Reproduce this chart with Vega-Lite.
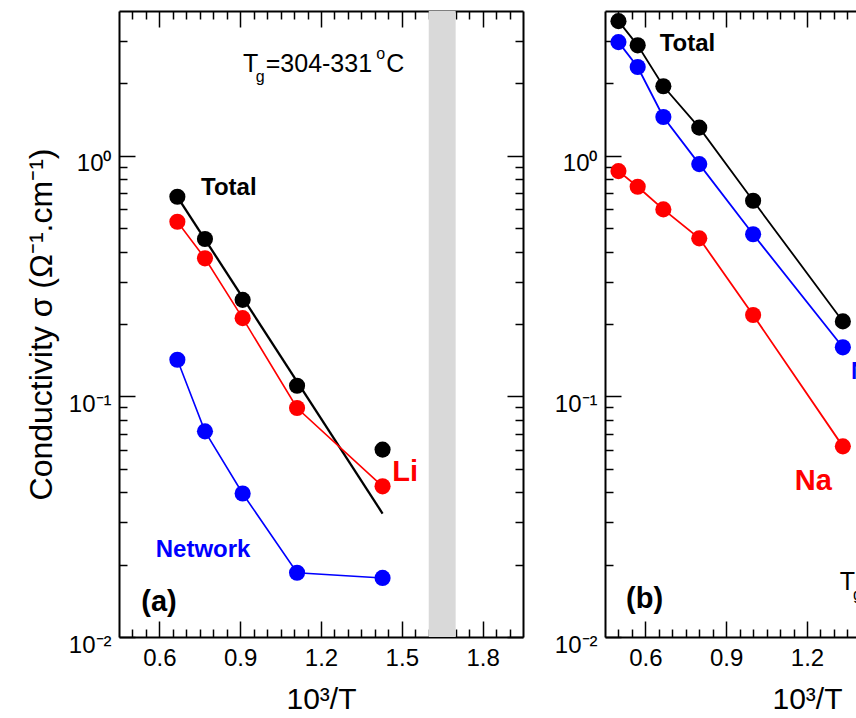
{
  "$schema": "https://vega.github.io/schema/vega-lite/v6.json",
  "background": "white",
  "padding": {"left": 25, "top": 10, "right": 0, "bottom": 0},
  "config": {
    "view": {"stroke": null},
    "font": "Liberation Sans",
    "axis": {
      "grid": false,
      "domainColor": "#000000",
      "domainWidth": 2,
      "tickColor": "#000000",
      "tickWidth": 1.5,
      "labelColor": "#000000",
      "labelFont": "Liberation Sans",
      "labelFontSize": 24,
      "titleFont": "Liberation Sans",
      "titleColor": "#000000",
      "titleFontWeight": "normal",
      "labelOverlap": false,
      "labelFlush": false,
      "zindex": 1
    },
    "text": {"font": "Liberation Sans"}
  },
  "datasets": {
    "bandA": [{"from": 1.6, "to": 1.7}],
    "ptsA": [
      {"x": 0.6667, "sigma": 0.676, "series": "Total"},
      {"x": 0.7692, "sigma": 0.451, "series": "Total"},
      {"x": 0.9091, "sigma": 0.252, "series": "Total"},
      {"x": 1.1111, "sigma": 0.1107, "series": "Total"},
      {"x": 1.4286, "sigma": 0.0601, "series": "Total"},
      {"x": 0.6667, "sigma": 0.532, "series": "Li"},
      {"x": 0.7692, "sigma": 0.375, "series": "Li"},
      {"x": 0.9091, "sigma": 0.2115, "series": "Li"},
      {"x": 1.1111, "sigma": 0.0895, "series": "Li"},
      {"x": 1.4286, "sigma": 0.0423, "series": "Li"},
      {"x": 0.6667, "sigma": 0.142, "series": "Network"},
      {"x": 0.7692, "sigma": 0.0716, "series": "Network"},
      {"x": 0.9091, "sigma": 0.0395, "series": "Network"},
      {"x": 1.1111, "sigma": 0.0185, "series": "Network"},
      {"x": 1.4286, "sigma": 0.0176, "series": "Network"}
    ],
    "fitA": [
      {"x": 0.6667, "sigma": 0.676},
      {"x": 1.4286, "sigma": 0.0326}
    ],
    "labelsA": [
      {"x": 0.7545, "sigma": 0.7365, "label": "Total", "series": "Total"},
      {"x": 0.5863, "sigma": 0.023, "label": "Network", "series": "Network"},
      {"x": 1.4649, "sigma": 0.0485, "label": "Li", "series": "Li"},
      {"x": 0.5328, "sigma": 0.01393, "label": "(a)", "series": "Panel"}
    ],
    "tgMainA": [
      {"x": 0.9105, "sigma": 2.234, "label": "T"},
      {"x": 0.9948, "sigma": 2.234, "label": "=304-331"},
      {"x": 1.4426, "sigma": 2.234, "label": "C"}
    ],
    "tgSmallA": [
      {"x": 0.9576, "sigma": 2.032, "label": "g"},
      {"x": 1.4055, "sigma": 2.535, "label": "o"}
    ],
    "ptsB": [
      {"x": 0.5, "sigma": 3.63, "series": "Total"},
      {"x": 0.5714, "sigma": 2.88, "series": "Total"},
      {"x": 0.6667, "sigma": 1.946, "series": "Total"},
      {"x": 0.8, "sigma": 1.31, "series": "Total"},
      {"x": 1.0, "sigma": 0.651, "series": "Total"},
      {"x": 1.3333, "sigma": 0.205, "series": "Total"},
      {"x": 0.5, "sigma": 2.97, "series": "Network"},
      {"x": 0.5714, "sigma": 2.34, "series": "Network"},
      {"x": 0.6667, "sigma": 1.45, "series": "Network"},
      {"x": 0.8, "sigma": 0.924, "series": "Network"},
      {"x": 1.0, "sigma": 0.472, "series": "Network"},
      {"x": 1.3333, "sigma": 0.16, "series": "Network"},
      {"x": 0.5, "sigma": 0.864, "series": "Na"},
      {"x": 0.5714, "sigma": 0.744, "series": "Na"},
      {"x": 0.6667, "sigma": 0.599, "series": "Na"},
      {"x": 0.8, "sigma": 0.454, "series": "Na"},
      {"x": 1.0, "sigma": 0.218, "series": "Na"},
      {"x": 1.3333, "sigma": 0.062, "series": "Na"}
    ],
    "labelsB": [
      {"x": 0.653, "sigma": 2.93, "label": "Total", "series": "Total"},
      {"x": 1.3635, "sigma": 0.1266, "label": "Network", "series": "Network"},
      {"x": 1.1544, "sigma": 0.0444, "label": "Na", "series": "Na"},
      {"x": 0.528, "sigma": 0.01434, "label": "(b)", "series": "Panel"}
    ],
    "tgMainB": [
      {"x": 1.3215, "sigma": 0.01567, "label": "T"}
    ],
    "tgSmallB": [
      {"x": 1.3709, "sigma": 0.01425, "label": "g"}
    ]
  },
  "spacing": 82,
  "bounds": "flush",
  "hconcat": [
    {
      "width": 404,
      "height": 626,
      "resolve": {"axis": {"x": "independent", "y": "independent"}},
      "layer": [
        {
          "data": {"name": "bandA"},
          "mark": {"type": "rect", "color": "#d9d9d9"},
          "encoding": {
            "x": {"field": "from", "type": "quantitative", "scale": {"domain": [0.45, 1.95], "nice": false, "zero": false}, "axis": null},
            "x2": {"field": "to"}
          }
        },
        {
          "data": {"name": "fitA"},
          "mark": {"type": "line", "color": "#000000", "strokeWidth": 2.3, "clip": true},
          "encoding": {
            "x": {"field": "x", "type": "quantitative", "scale": {"domain": [0.45, 1.95], "nice": false, "zero": false},
              "axis": {"orient": "bottom", "values": [0.6, 0.9, 1.2, 1.5, 1.8], "format": ".1f", "tickSize": -16, "labelPadding": 25.3, "title": "10³/T", "titleFontSize": 30, "titlePadding": 14}},
            "y": {"field": "sigma", "type": "quantitative", "scale": {"type": "log", "domain": [0.01, 4], "nice": false},
              "axis": {"orient": "left", "values": [0.01, 0.1, 1], "labelExpr": "datum.value < 0.05 ? '10⁻²' : datum.value < 0.5 ? '10⁻¹' : '10⁰'", "tickSize": -16, "labelPadding": 24, "labelOffset": 8, "title": "Conductivity σ (Ω⁻¹.cm⁻¹)", "titleFontSize": 32, "titlePadding": 10}}
          }
        },
        {
          "data": {"name": "ptsA"},
          "transform": [{"filter": "datum.series != 'Total'"}],
          "mark": {"type": "line", "strokeWidth": 1.6, "clip": true},
          "encoding": {
            "x": {"field": "x", "type": "quantitative", "scale": {"domain": [0.45, 1.95], "nice": false, "zero": false},
              "axis": {"orient": "bottom", "values": [0.5, 0.55, 0.65, 0.7, 0.75, 0.8, 0.85, 0.95, 1.0, 1.05, 1.1, 1.15, 1.25, 1.3, 1.35, 1.4, 1.45, 1.55, 1.6, 1.65, 1.7, 1.75, 1.85, 1.9], "tickSize": -8, "labels": false, "domain": false, "title": null}},
            "y": {"field": "sigma", "type": "quantitative", "scale": {"type": "log", "domain": [0.01, 4], "nice": false},
              "axis": {"orient": "left", "values": [0.02, 0.03, 0.04, 0.05, 0.06, 0.07, 0.08, 0.09, 0.2, 0.3, 0.4, 0.5, 0.6, 0.7, 0.8, 0.9, 2, 3], "tickSize": -8, "labels": false, "domain": false, "title": null}},
            "color": {"field": "series", "type": "nominal", "scale": {"domain": ["Total", "Li", "Na", "Network", "Panel"], "range": ["#000000", "#ff0000", "#ff0000", "#0000ff", "#000000"]}, "legend": null}
          }
        },
        {
          "data": {"name": "ptsA"},
          "mark": {"type": "circle", "size": 260, "opacity": 1, "clip": true},
          "encoding": {
            "x": {"field": "x", "type": "quantitative", "scale": {"domain": [0.45, 1.95], "nice": false, "zero": false},
              "axis": {"orient": "top", "values": [0.6, 0.9, 1.2, 1.5, 1.8], "tickSize": -16, "labels": false, "title": null}},
            "y": {"field": "sigma", "type": "quantitative", "scale": {"type": "log", "domain": [0.01, 4], "nice": false},
              "axis": {"orient": "right", "values": [0.01, 0.1, 1], "tickSize": -16, "labels": false, "title": null}},
            "color": {"field": "series", "type": "nominal", "scale": {"domain": ["Total", "Li", "Na", "Network", "Panel"], "range": ["#000000", "#ff0000", "#ff0000", "#0000ff", "#000000"]}, "legend": null}
          }
        },
        {
          "data": {"name": "labelsA"},
          "transform": [{"filter": {"field": "label", "oneOf": ["Total", "Network"]}}],
          "mark": {"type": "text", "align": "left", "baseline": "middle", "fontSize": 24, "fontWeight": "bold", "clip": true},
          "encoding": {
            "x": {"field": "x", "type": "quantitative", "scale": {"domain": [0.45, 1.95], "nice": false, "zero": false},
              "axis": {"orient": "top", "values": [0.5, 0.55, 0.65, 0.7, 0.75, 0.8, 0.85, 0.95, 1.0, 1.05, 1.1, 1.15, 1.25, 1.3, 1.35, 1.4, 1.45, 1.55, 1.6, 1.65, 1.7, 1.75, 1.85, 1.9], "tickSize": -8, "labels": false, "domain": false, "title": null}},
            "y": {"field": "sigma", "type": "quantitative", "scale": {"type": "log", "domain": [0.01, 4], "nice": false},
              "axis": {"orient": "right", "values": [0.02, 0.03, 0.04, 0.05, 0.06, 0.07, 0.08, 0.09, 0.2, 0.3, 0.4, 0.5, 0.6, 0.7, 0.8, 0.9, 2, 3], "tickSize": -8, "labels": false, "domain": false, "title": null}},
            "text": {"field": "label"},
            "color": {"field": "series", "type": "nominal", "scale": {"domain": ["Total", "Li", "Na", "Network", "Panel"], "range": ["#000000", "#ff0000", "#ff0000", "#0000ff", "#000000"]}, "legend": null}
          }
        },
        {
          "data": {"name": "labelsA"},
          "transform": [{"filter": {"field": "label", "oneOf": ["Li", "(a)"]}}],
          "mark": {"type": "text", "align": "left", "baseline": "middle", "fontSize": 29, "fontWeight": "bold", "clip": true},
          "encoding": {
            "x": {"field": "x", "type": "quantitative", "scale": {"domain": [0.45, 1.95], "nice": false, "zero": false}, "axis": null},
            "y": {"field": "sigma", "type": "quantitative", "scale": {"type": "log", "domain": [0.01, 4], "nice": false}, "axis": null},
            "text": {"field": "label"},
            "color": {"field": "series", "type": "nominal", "scale": {"domain": ["Total", "Li", "Na", "Network", "Panel"], "range": ["#000000", "#ff0000", "#ff0000", "#0000ff", "#000000"]}, "legend": null}
          }
        },
        {
          "data": {"name": "tgMainA"},
          "mark": {"type": "text", "align": "left", "baseline": "alphabetic", "fontSize": 25, "color": "#000000", "clip": true},
          "encoding": {
            "x": {"field": "x", "type": "quantitative", "scale": {"domain": [0.45, 1.95], "nice": false, "zero": false}, "axis": null},
            "y": {"field": "sigma", "type": "quantitative", "scale": {"type": "log", "domain": [0.01, 4], "nice": false}, "axis": null},
            "text": {"field": "label"}
          }
        },
        {
          "data": {"name": "tgSmallA"},
          "mark": {"type": "text", "align": "left", "baseline": "alphabetic", "fontSize": 16, "color": "#000000", "clip": true},
          "encoding": {
            "x": {"field": "x", "type": "quantitative", "scale": {"domain": [0.45, 1.95], "nice": false, "zero": false}, "axis": null},
            "y": {"field": "sigma", "type": "quantitative", "scale": {"type": "log", "domain": [0.01, 4], "nice": false}, "axis": null},
            "text": {"field": "label"}
          }
        }
      ]
    },
    {
      "width": 253,
      "height": 626,
      "resolve": {"axis": {"x": "independent", "y": "independent"}},
      "layer": [
        {
          "data": {"name": "ptsB"},
          "mark": {"type": "line", "strokeWidth": 1.8, "clip": true},
          "encoding": {
            "x": {"field": "x", "type": "quantitative", "scale": {"domain": [0.45, 1.3895], "nice": false, "zero": false},
              "axis": {"orient": "bottom", "values": [0.6, 0.9, 1.2], "format": ".1f", "tickSize": -16, "labelPadding": 25.3, "title": "10³/T", "titleFontSize": 30, "titlePadding": 14, "titleX": 202, "titleAlign": "center", "titleAnchor": "start"}},
            "y": {"field": "sigma", "type": "quantitative", "scale": {"type": "log", "domain": [0.01, 4], "nice": false},
              "axis": {"orient": "left", "values": [0.01, 0.1, 1], "labelExpr": "datum.value < 0.05 ? '10⁻²' : datum.value < 0.5 ? '10⁻¹' : '10⁰'", "tickSize": -16, "labelPadding": 24, "labelOffset": 8, "title": null}},
            "color": {"field": "series", "type": "nominal", "scale": {"domain": ["Total", "Li", "Na", "Network", "Panel"], "range": ["#000000", "#ff0000", "#ff0000", "#0000ff", "#000000"]}, "legend": null}
          }
        },
        {
          "data": {"name": "ptsB"},
          "mark": {"type": "circle", "size": 260, "opacity": 1, "clip": true},
          "encoding": {
            "x": {"field": "x", "type": "quantitative", "scale": {"domain": [0.45, 1.3895], "nice": false, "zero": false},
              "axis": {"orient": "bottom", "values": [0.5, 0.55, 0.65, 0.7, 0.75, 0.8, 0.85, 0.95, 1.0, 1.05, 1.1, 1.15, 1.25, 1.3, 1.35], "tickSize": -8, "labels": false, "domain": false, "title": null}},
            "y": {"field": "sigma", "type": "quantitative", "scale": {"type": "log", "domain": [0.01, 4], "nice": false},
              "axis": {"orient": "left", "values": [0.02, 0.03, 0.04, 0.05, 0.06, 0.07, 0.08, 0.09, 0.2, 0.3, 0.4, 0.5, 0.6, 0.7, 0.8, 0.9, 2, 3], "tickSize": -8, "labels": false, "domain": false, "title": null}},
            "color": {"field": "series", "type": "nominal", "scale": {"domain": ["Total", "Li", "Na", "Network", "Panel"], "range": ["#000000", "#ff0000", "#ff0000", "#0000ff", "#000000"]}, "legend": null}
          }
        },
        {
          "data": {"name": "labelsB"},
          "transform": [{"filter": {"field": "label", "oneOf": ["Total", "Network"]}}],
          "mark": {"type": "text", "align": "left", "baseline": "middle", "fontSize": 24, "fontWeight": "bold", "clip": true},
          "encoding": {
            "x": {"field": "x", "type": "quantitative", "scale": {"domain": [0.45, 1.3895], "nice": false, "zero": false},
              "axis": {"orient": "top", "values": [0.6, 0.9, 1.2], "tickSize": -16, "labels": false, "title": null}},
            "y": {"field": "sigma", "type": "quantitative", "scale": {"type": "log", "domain": [0.01, 4], "nice": false}, "axis": null},
            "text": {"field": "label"},
            "color": {"field": "series", "type": "nominal", "scale": {"domain": ["Total", "Li", "Na", "Network", "Panel"], "range": ["#000000", "#ff0000", "#ff0000", "#0000ff", "#000000"]}, "legend": null}
          }
        },
        {
          "data": {"name": "labelsB"},
          "transform": [{"filter": {"field": "label", "oneOf": ["Na", "(b)"]}}],
          "mark": {"type": "text", "align": "left", "baseline": "middle", "fontSize": 29, "fontWeight": "bold", "clip": true},
          "encoding": {
            "x": {"field": "x", "type": "quantitative", "scale": {"domain": [0.45, 1.3895], "nice": false, "zero": false},
              "axis": {"orient": "top", "values": [0.5, 0.55, 0.65, 0.7, 0.75, 0.8, 0.85, 0.95, 1.0, 1.05, 1.1, 1.15, 1.25, 1.3, 1.35], "tickSize": -8, "labels": false, "domain": false, "title": null}},
            "y": {"field": "sigma", "type": "quantitative", "scale": {"type": "log", "domain": [0.01, 4], "nice": false}, "axis": null},
            "text": {"field": "label"},
            "color": {"field": "series", "type": "nominal", "scale": {"domain": ["Total", "Li", "Na", "Network", "Panel"], "range": ["#000000", "#ff0000", "#ff0000", "#0000ff", "#000000"]}, "legend": null}
          }
        },
        {
          "data": {"name": "tgMainB"},
          "mark": {"type": "text", "align": "left", "baseline": "alphabetic", "fontSize": 25, "color": "#000000", "clip": true},
          "encoding": {
            "x": {"field": "x", "type": "quantitative", "scale": {"domain": [0.45, 1.3895], "nice": false, "zero": false}, "axis": null},
            "y": {"field": "sigma", "type": "quantitative", "scale": {"type": "log", "domain": [0.01, 4], "nice": false}, "axis": null},
            "text": {"field": "label"}
          }
        },
        {
          "data": {"name": "tgSmallB"},
          "mark": {"type": "text", "align": "left", "baseline": "alphabetic", "fontSize": 16, "color": "#000000", "clip": true},
          "encoding": {
            "x": {"field": "x", "type": "quantitative", "scale": {"domain": [0.45, 1.3895], "nice": false, "zero": false}, "axis": null},
            "y": {"field": "sigma", "type": "quantitative", "scale": {"type": "log", "domain": [0.01, 4], "nice": false}, "axis": null},
            "text": {"field": "label"}
          }
        }
      ]
    }
  ]
}
